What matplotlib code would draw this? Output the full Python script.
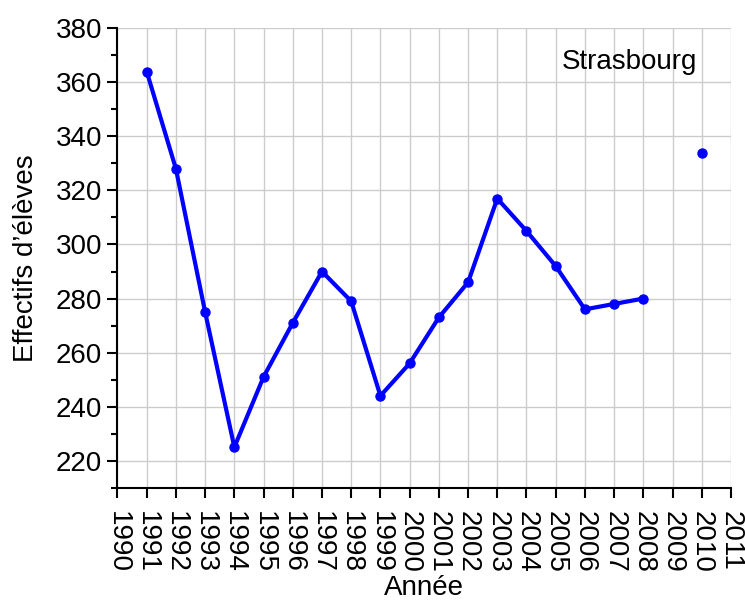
import matplotlib.pyplot as plt
import numpy as np
from matplotlib.ticker import MultipleLocator

plt.rcParams["font.family"] = ["Liberation Sans", "DejaVu Sans"]

years = [1991, 1992, 1993, 1994, 1995, 1996, 1997, 1998, 1999, 2000,
         2001, 2002, 2003, 2004, 2005, 2006, 2007, 2008, 2009, 2010]
effectifs = [364, 328, 275, 225, 251, 271, 290, 279, 244, 256,
             273, 286, 317, 305, 292, 276, 278, 280, np.nan, 334]

fig = plt.figure(figsize=(7.45, 6.01), dpi=100)
ax = fig.add_axes([0.1577, 0.1885, 0.8235, 0.7644])

ax.plot(years, effectifs, color="#0000ff", lw=3, marker="o", ms=6.5, zorder=3)

ax.set_xlim(1990, 2011)
ax.set_ylim(210, 380)
ax.xaxis.set_major_locator(MultipleLocator(1))
ax.yaxis.set_major_locator(MultipleLocator(20))
ax.yaxis.set_minor_locator(MultipleLocator(10))
ax.grid(True, which="major", color="#cccccc", lw=1)
ax.set_axisbelow(True)

for s in ("top", "right"):
    ax.spines[s].set_visible(False)
for s in ("left", "bottom"):
    ax.spines[s].set_linewidth(1.5)

ax.tick_params(axis="both", which="major", direction="out", length=7, width=1.5,
               labelsize=20, color="black", pad=4)
ax.tick_params(axis="x", labelrotation=-90, pad=10)
ax.tick_params(axis="y", which="minor", direction="out", length=4, width=1.5)

ax.set_xlabel("Année", fontsize=20, labelpad=1)
ax.set_ylabel("Effectifs d\u2019élèves", fontsize=20, labelpad=12)

ax.text(0.9446, 0.926, "Strasbourg", transform=ax.transAxes, ha="right",
        va="center", fontsize=20)

fig.savefig("out.png", dpi=100)
